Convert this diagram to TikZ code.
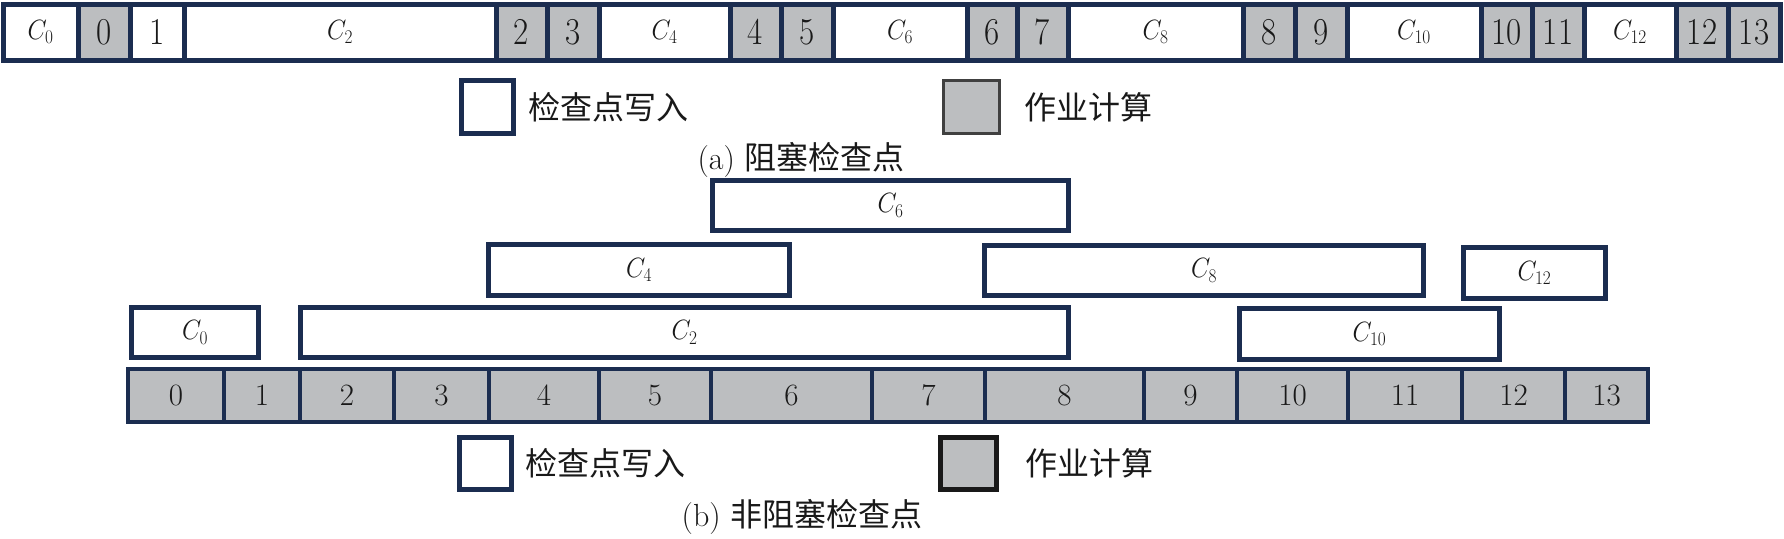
\documentclass[tikz,border=0pt]{standalone}
\usepackage{fontspec}
\usepackage{graphicx}
\newfontfamily\cjk{Noto Sans CJK SC}
\definecolor{navy}{RGB}{27,45,80}
\definecolor{cellgray}{RGB}{188,190,192}
\definecolor{txt}{RGB}{25,25,25}
\newcommand\mybox[7]{\node[#2, minimum width={(#4)-(#3)}, minimum height={(#6)-(#5)}] (#1) at ({((#3)+(#4))/2},{((#5)+(#6))/2}) {#7};}
\newcommand\ck[1]{\scalebox{1}[1.12]{$C_{\scriptscriptstyle #1}$}}
\newcommand\tl[1]{\scalebox{1}[1.15]{#1}}
\begin{document}
\begin{tikzpicture}[x=1pt,y=-1pt,
  cellbase/.style={draw=navy, line width=5pt, inner sep=0pt, outer sep=0pt, text=txt},
  topw/.style={cellbase, fill=white, font=\fontsize{33}{38}\selectfont},
  topg/.style={cellbase, fill=cellgray, font=\fontsize{33}{38}\selectfont},
  botg/.style={cellbase, line width=4.5pt, fill=cellgray, font=\fontsize{31}{36}\selectfont},
  ckbox/.style={cellbase, fill=white, font=\fontsize{33}{38}\selectfont},
  legw/.style={cellbase, fill=white},
  leggA/.style={draw=black!75, line width=3pt, fill=cellgray, inner sep=0pt},
  leggB/.style={draw=black!90, line width=5pt, fill=cellgray, inner sep=0pt},
  legtext/.style={anchor=west, inner sep=0pt, text=txt, font=\fontsize{32}{38}\selectfont\cjk},
  captext/.style={inner sep=0pt, text=txt, font=\fontsize{32}{38}\selectfont}]
\useasboundingbox (0,0) rectangle (1784,538);
% ---- (a) top row
\mybox{tC0}{topw}{3}{78}{4}{60}{\ck{0}}
\mybox{t0}{topg}{78}{130}{4}{60}{\tl{0}}
\mybox{t1}{topw}{130}{184}{4}{60}{\tl{1}}
\mybox{tC2}{topw}{184}{496}{4}{60}{\ck{2}}
\mybox{t2}{topg}{496}{547}{4}{60}{\tl{2}}
\mybox{t3}{topg}{547}{599}{4}{60}{\tl{3}}
\mybox{tC4}{topw}{599}{730}{4}{60}{\ck{4}}
\mybox{t4}{topg}{730}{781}{4}{60}{\tl{4}}
\mybox{t5}{topg}{781}{833}{4}{60}{\tl{5}}
\mybox{tC6}{topw}{833}{967}{4}{60}{\ck{6}}
\mybox{t6}{topg}{967}{1017}{4}{60}{\tl{6}}
\mybox{t7}{topg}{1017}{1068}{4}{60}{\tl{7}}
\mybox{tC8}{topw}{1068}{1243}{4}{60}{\ck{8}}
\mybox{t8}{topg}{1243}{1295}{4}{60}{\tl{8}}
\mybox{t9}{topg}{1295}{1347}{4}{60}{\tl{9}}
\mybox{tC10}{topw}{1347}{1481}{4}{60}{\ck{10}}
\mybox{t10}{topg}{1481}{1532}{4}{60}{\tl{10}}
\mybox{t11}{topg}{1532}{1584}{4}{60}{\tl{11}}
\mybox{tC12}{topw}{1584}{1676}{4}{60}{\ck{12}}
\mybox{t12}{topg}{1676}{1728}{4}{60}{\tl{12}}
\mybox{t13}{topg}{1728}{1780}{4}{60}{\tl{13}}
% ---- (a) legend
\mybox{aW}{legw}{461}{513}{80}{133}{}
\node[legtext] (aWt) at (528,107) {检查点写入};
\mybox{aG}{leggA}{943}{999}{80}{133}{}
\node[legtext] (aGt) at (1024,107) {作业计算};
\node[captext] (capA) at (801,160) {(a) {\cjk 阻塞检查点}};
% ---- (b) checkpoint boxes
\mybox{bC6}{ckbox}{712.5}{1068.5}{180.5}{230.5}{\ck{6}}
\mybox{bC4}{ckbox}{488.5}{789.5}{244.5}{295.5}{\ck{4}}
\mybox{bC8}{ckbox}{984.5}{1423.5}{245.5}{295.5}{\ck{8}}
\mybox{bC12}{ckbox}{1463.5}{1605.5}{247.5}{298.5}{\ck{12}}
\mybox{bC0}{ckbox}{131.5}{258.5}{307.5}{357.5}{\ck{0}}
\mybox{bC2}{ckbox}{300.5}{1068.5}{307.5}{357.5}{\ck{2}}
\mybox{bC10}{ckbox}{1239.5}{1499.5}{308.5}{359.5}{\ck{10}}
% ---- (b) bottom row
\mybox{b0}{botg}{128}{224}{369}{422}{0}
\mybox{b1}{botg}{224}{300}{369}{422}{1}
\mybox{b2}{botg}{300}{394}{369}{422}{2}
\mybox{b3}{botg}{394}{489}{369}{422}{3}
\mybox{b4}{botg}{489}{599}{369}{422}{4}
\mybox{b5}{botg}{599}{711}{369}{422}{5}
\mybox{b6}{botg}{711}{872}{369}{422}{6}
\mybox{b7}{botg}{872}{985}{369}{422}{7}
\mybox{b8}{botg}{985}{1144}{369}{422}{8}
\mybox{b9}{botg}{1144}{1237}{369}{422}{9}
\mybox{b10}{botg}{1237}{1348}{369}{422}{10}
\mybox{b11}{botg}{1348}{1462}{369}{422}{11}
\mybox{b12}{botg}{1462}{1565}{369}{422}{12}
\mybox{b13}{botg}{1565}{1648}{369}{422}{13}
% ---- (b) legend
\mybox{bW}{legw}{459}{511}{437}{489}{}
\node[legtext] (bWt) at (525,463) {检查点写入};
\mybox{bG}{leggB}{940}{996}{437}{489}{}
\node[legtext] (bGt) at (1025,463) {作业计算};
\node[captext] (capB) at (802,517) {(b) {\cjk 非阻塞检查点}};
\end{tikzpicture}
\end{document}
